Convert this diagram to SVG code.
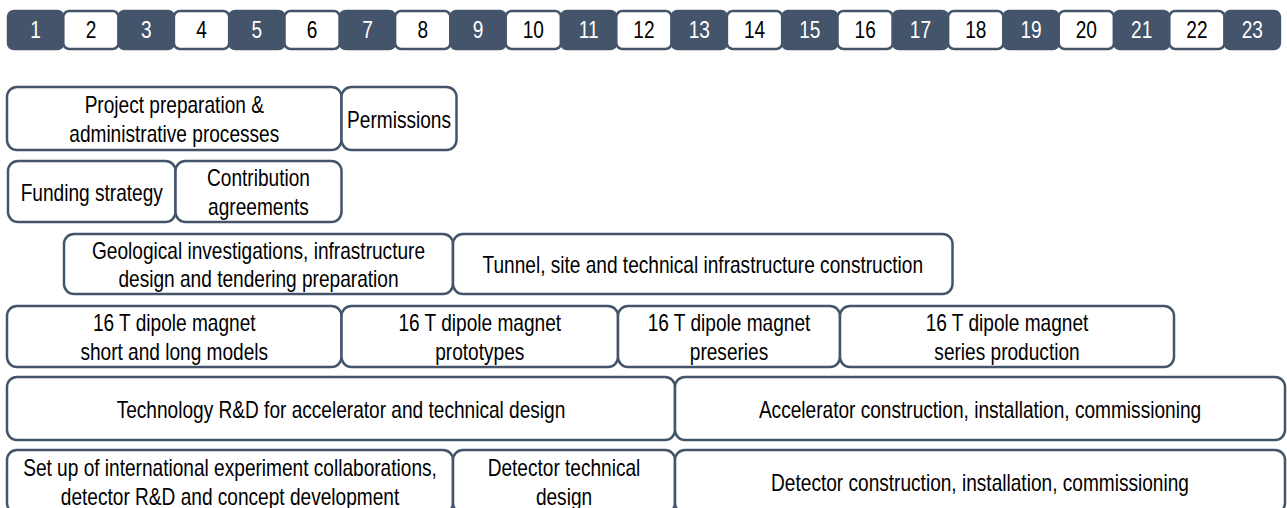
<svg xmlns="http://www.w3.org/2000/svg" width="1287" height="508" viewBox="0 0 1287 508">
<style>
.cd{fill:#44546A;stroke:#44546A;stroke-width:2.5}
.cl{fill:#ffffff;stroke:#44546A;stroke-width:2.5}
.nd{fill:#ffffff;font-family:"Liberation Sans",Arial,sans-serif;font-size:23px;text-anchor:middle}
.nl{fill:#000000;font-family:"Liberation Sans",Arial,sans-serif;font-size:23px;text-anchor:middle}
.box{fill:#ffffff;stroke:#44546A;stroke-width:2.5}
.t{fill:#000000;font-family:"Liberation Sans",Arial,sans-serif;font-size:23px;text-anchor:middle}
</style>
<rect width="1287" height="508" fill="#ffffff"/>
<g id="timeline">
<g id="y1"><rect class="cd" x="8" y="11" width="55.3" height="38" rx="6"/><text class="nd" transform="translate(35.65 37.5) scale(0.83 1)">1</text></g>
<g id="y2"><rect class="cl" x="63.3" y="11" width="55.3" height="38" rx="6"/><text class="nl" transform="translate(90.95 37.5) scale(0.83 1)">2</text></g>
<g id="y3"><rect class="cd" x="118.6" y="11" width="55.3" height="38" rx="6"/><text class="nd" transform="translate(146.25 37.5) scale(0.83 1)">3</text></g>
<g id="y4"><rect class="cl" x="173.9" y="11" width="55.3" height="38" rx="6"/><text class="nl" transform="translate(201.55 37.5) scale(0.83 1)">4</text></g>
<g id="y5"><rect class="cd" x="229.2" y="11" width="55.3" height="38" rx="6"/><text class="nd" transform="translate(256.85 37.5) scale(0.83 1)">5</text></g>
<g id="y6"><rect class="cl" x="284.5" y="11" width="55.3" height="38" rx="6"/><text class="nl" transform="translate(312.15 37.5) scale(0.83 1)">6</text></g>
<g id="y7"><rect class="cd" x="339.8" y="11" width="55.3" height="38" rx="6"/><text class="nd" transform="translate(367.45 37.5) scale(0.83 1)">7</text></g>
<g id="y8"><rect class="cl" x="395.1" y="11" width="55.3" height="38" rx="6"/><text class="nl" transform="translate(422.75 37.5) scale(0.83 1)">8</text></g>
<g id="y9"><rect class="cd" x="450.4" y="11" width="55.3" height="38" rx="6"/><text class="nd" transform="translate(478.05 37.5) scale(0.83 1)">9</text></g>
<g id="y10"><rect class="cl" x="505.7" y="11" width="55.3" height="38" rx="6"/><text class="nl" transform="translate(533.35 37.5) scale(0.83 1)">10</text></g>
<g id="y11"><rect class="cd" x="561" y="11" width="55.3" height="38" rx="6"/><text class="nd" transform="translate(588.65 37.5) scale(0.83 1)">11</text></g>
<g id="y12"><rect class="cl" x="616.3" y="11" width="55.3" height="38" rx="6"/><text class="nl" transform="translate(643.95 37.5) scale(0.83 1)">12</text></g>
<g id="y13"><rect class="cd" x="671.6" y="11" width="55.3" height="38" rx="6"/><text class="nd" transform="translate(699.25 37.5) scale(0.83 1)">13</text></g>
<g id="y14"><rect class="cl" x="726.9" y="11" width="55.3" height="38" rx="6"/><text class="nl" transform="translate(754.55 37.5) scale(0.83 1)">14</text></g>
<g id="y15"><rect class="cd" x="782.2" y="11" width="55.3" height="38" rx="6"/><text class="nd" transform="translate(809.85 37.5) scale(0.83 1)">15</text></g>
<g id="y16"><rect class="cl" x="837.5" y="11" width="55.3" height="38" rx="6"/><text class="nl" transform="translate(865.15 37.5) scale(0.83 1)">16</text></g>
<g id="y17"><rect class="cd" x="892.8" y="11" width="55.3" height="38" rx="6"/><text class="nd" transform="translate(920.45 37.5) scale(0.83 1)">17</text></g>
<g id="y18"><rect class="cl" x="948.1" y="11" width="55.3" height="38" rx="6"/><text class="nl" transform="translate(975.75 37.5) scale(0.83 1)">18</text></g>
<g id="y19"><rect class="cd" x="1003.4" y="11" width="55.3" height="38" rx="6"/><text class="nd" transform="translate(1031.05 37.5) scale(0.83 1)">19</text></g>
<g id="y20"><rect class="cl" x="1058.7" y="11" width="55.3" height="38" rx="6"/><text class="nl" transform="translate(1086.35 37.5) scale(0.83 1)">20</text></g>
<g id="y21"><rect class="cd" x="1114" y="11" width="55.3" height="38" rx="6"/><text class="nd" transform="translate(1141.65 37.5) scale(0.83 1)">21</text></g>
<g id="y22"><rect class="cl" x="1169.3" y="11" width="55.3" height="38" rx="6"/><text class="nl" transform="translate(1196.95 37.5) scale(0.83 1)">22</text></g>
<g id="y23"><rect class="cd" x="1224.6" y="11" width="55.3" height="38" rx="6"/><text class="nd" transform="translate(1252.25 37.5) scale(0.83 1)">23</text></g>
</g>
<g id="connectors"/>
<g id="project-preparation"><rect class="box" x="7" y="87" width="334.5" height="63" rx="10"/><text class="t" transform="translate(174.25 113) scale(0.83 1)"><tspan x="0" y="0">Project preparation &amp;</tspan><tspan x="0" y="29">administrative processes</tspan></text></g>
<g id="permissions"><rect class="box" x="341.5" y="87" width="115" height="63" rx="10"/><text class="t" transform="translate(399 127.5) scale(0.83 1)">Permissions</text></g>
<g id="funding-strategy"><rect class="box" x="8" y="161" width="167.5" height="61" rx="10"/><text class="t" transform="translate(91.75 200.5) scale(0.83 1)">Funding strategy</text></g>
<g id="contribution-agreements"><rect class="box" x="175.5" y="161" width="166" height="61" rx="10"/><text class="t" transform="translate(258.5 186) scale(0.83 1)"><tspan x="0" y="0">Contribution</tspan><tspan x="0" y="29">agreements</tspan></text></g>
<g id="geological-investigations"><rect class="box" x="64" y="234" width="389" height="60" rx="10"/><text class="t" transform="translate(258.5 258.5) scale(0.83 1)"><tspan x="0" y="0">Geological investigations, infrastructure</tspan><tspan x="0" y="29">design and tendering preparation</tspan></text></g>
<g id="tunnel-construction"><rect class="box" x="453" y="234" width="499.5" height="60" rx="10"/><text class="t" transform="translate(702.75 273) scale(0.83 1)">Tunnel, site and technical infrastructure construction</text></g>
<g id="magnet-models"><rect class="box" x="7" y="306" width="334.5" height="61" rx="10"/><text class="t" transform="translate(174.25 331) scale(0.83 1)"><tspan x="0" y="0">16 T dipole magnet</tspan><tspan x="0" y="29">short and long models</tspan></text></g>
<g id="magnet-prototypes"><rect class="box" x="341.5" y="306" width="276.5" height="61" rx="10"/><text class="t" transform="translate(479.75 331) scale(0.83 1)"><tspan x="0" y="0">16 T dipole magnet</tspan><tspan x="0" y="29">prototypes</tspan></text></g>
<g id="magnet-preseries"><rect class="box" x="618" y="306" width="222" height="61" rx="10"/><text class="t" transform="translate(729 331) scale(0.83 1)"><tspan x="0" y="0">16 T dipole magnet</tspan><tspan x="0" y="29">preseries</tspan></text></g>
<g id="magnet-series"><rect class="box" x="840" y="306" width="334" height="61" rx="10"/><text class="t" transform="translate(1007 331) scale(0.83 1)"><tspan x="0" y="0">16 T dipole magnet</tspan><tspan x="0" y="29">series production</tspan></text></g>
<g id="technology-rd"><rect class="box" x="7" y="377" width="668" height="63" rx="10"/><text class="t" transform="translate(341 417.5) scale(0.83 1)">Technology R&amp;D for accelerator and technical design</text></g>
<g id="accelerator-construction"><rect class="box" x="675" y="377" width="610" height="63" rx="10"/><text class="t" transform="translate(980 417.5) scale(0.83 1)">Accelerator construction, installation, commissioning</text></g>
<g id="experiment-collaborations"><rect class="box" x="7" y="450" width="446" height="63" rx="10"/><text class="t" transform="translate(230 476) scale(0.83 1)"><tspan x="0" y="0">Set up of international experiment collaborations,</tspan><tspan x="0" y="29">detector R&amp;D and concept development</tspan></text></g>
<g id="detector-technical-design"><rect class="box" x="453" y="450" width="222" height="63" rx="10"/><text class="t" transform="translate(564 476) scale(0.83 1)"><tspan x="0" y="0">Detector technical</tspan><tspan x="0" y="29">design</tspan></text></g>
<g id="detector-construction"><rect class="box" x="675" y="450" width="610" height="63" rx="10"/><text class="t" transform="translate(980 490.5) scale(0.83 1)">Detector construction, installation, commissioning</text></g>
</svg>
